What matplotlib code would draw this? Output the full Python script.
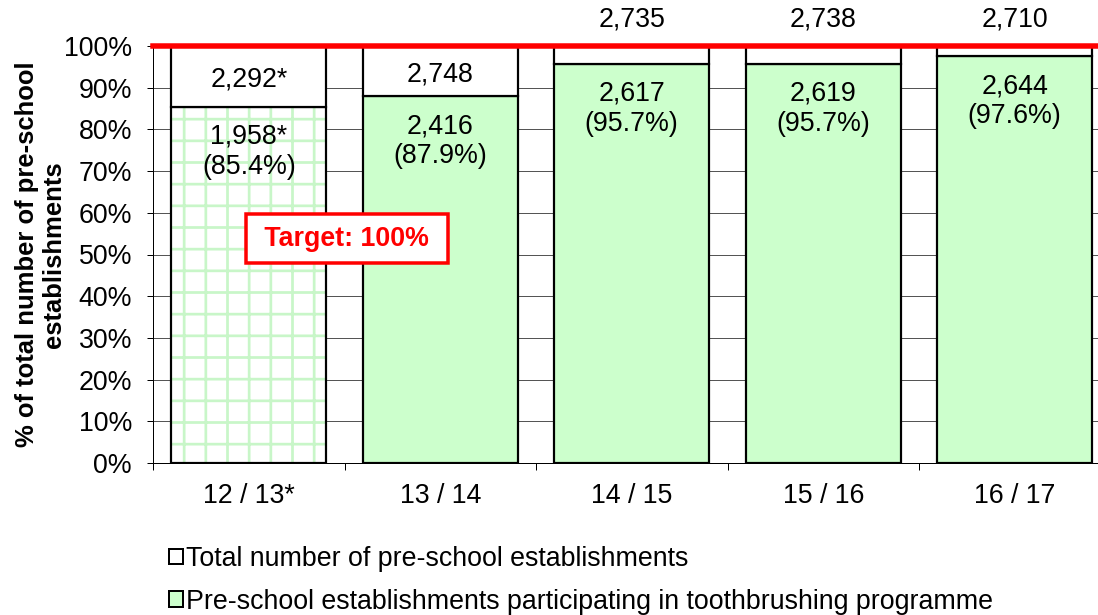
import matplotlib
matplotlib.use("Agg")
import matplotlib.pyplot as plt
from matplotlib.patches import Patch

categories = ["12 / 13*", "13 / 14", "14 / 15", "15 / 16", "16 / 17"]
totals = ["2,292*", "2,748", "2,735", "2,738", "2,710"]
participating = ["1,958*", "2,416", "2,617", "2,619", "2,644"]
percent = [85.4, 87.9, 95.7, 95.7, 97.6]
yticks = list(range(0, 101, 10))

DPI = 130
PT = 72 / DPI  # points per pixel
plt.rcParams['font.family'] = ['Liberation Sans', 'DejaVu Sans']
plt.rcParams['hatch.linewidth'] = 1.5
FS = 14.8

fig = plt.figure(figsize=(1098 / DPI, 615 / DPI), dpi=DPI)
ax = fig.add_axes([153 / 1098, 152 / 615, 957.5 / 1098, 417 / 615])

x = list(range(len(categories)))
w = 0.81
green = "#ccffcc"
edge_lw = 2.2 * PT

for i, p in enumerate(percent):
    rest = 100 - p
    if i == 0:
        ax.bar(i, p, w, color="white", edgecolor="#c8f6c8", hatch="+", lw=0, zorder=2)
        ax.bar(i, p, w, fill=False, edgecolor="black", lw=edge_lw, zorder=3)
    else:
        ax.bar(i, p, w, color=green, edgecolor="black", lw=edge_lw, zorder=3)
    ax.bar(i, rest, w, bottom=p, color="white", edgecolor="black", lw=edge_lw, zorder=3)
    # participating labels
    ax.annotate(participating[i], (i, p), xytext=(0, -30 * PT),
                textcoords="offset points", ha="center", va="center",
                fontsize=FS, zorder=5)
    ax.annotate(f"({p:.1f}%)", (i, p), xytext=(0, -60 * PT),
                textcoords="offset points", ha="center", va="center",
                fontsize=FS, zorder=5)
    # total labels
    if rest > 8:
        ax.annotate(totals[i], (i, p + rest / 2), xytext=(0, -3 * PT),
                    textcoords="offset points", ha="center", va="center",
                    fontsize=FS, zorder=5)
    else:
        ax.annotate(totals[i], (i, 100), xytext=(0, 26 * PT), textcoords="offset points",
                    ha="center", va="center", fontsize=FS, annotation_clip=False, zorder=5)

ax.axhline(100, color="#ff0000", lw=5.5 * PT, zorder=6, clip_on=False)

ax.text(0.512, 53.8, " Target: 100% ", color="#ff0000", fontsize=FS, fontweight="bold",
        ha="center", va="center", zorder=7,
        bbox=dict(boxstyle="square,pad=0.42", fc="white", ec="#ff0000", lw=3.5 * PT))

ax.set_xlim(-0.5, 4.5)
ax.set_ylim(0, 100)
ax.set_yticks(yticks)
ax.set_yticklabels([f"{t}%" for t in yticks], fontsize=FS)
ax.yaxis.grid(True, color="#555555", lw=1.0 * PT, zorder=0)
ax.set_axisbelow(True)
ax.set_xticks([i + 0.5 for i in x[:-1]] + [-0.5], minor=False)
ax.set_xticklabels([""] * len(x))
ax.set_xticks(x, minor=True)
ax.set_xticklabels(categories, minor=True, fontsize=FS)
ax.tick_params(axis="x", which="minor", length=0, pad=20 * PT)
ax.tick_params(axis="x", which="major", length=7 * PT, width=1.0 * PT)
ax.tick_params(axis="y", length=6 * PT, width=1.0 * PT, pad=15 * PT)
for s in ["top", "right"]:
    ax.spines[s].set_visible(False)
ax.spines["left"].set_linewidth(1.0 * PT)
ax.spines["bottom"].set_linewidth(1.0 * PT)

ax.set_ylabel("% of total number of pre-school\nestablishments", fontsize=14.2,
              fontweight="bold", linespacing=1.12, labelpad=-1)

handles = [Patch(facecolor="white", edgecolor="black", lw=2 * PT),
           Patch(facecolor=green, edgecolor="black", lw=2 * PT)]
labels = ["Total number of pre-school establishments",
          "Pre-school establishments participating in toothbrushing programme"]
fig.legend(handles, labels, loc="upper left", bbox_to_anchor=(169 / 1098, 1 - 546 / 615),
           frameon=False, fontsize=FS, handlelength=0.53, handleheight=0.53,
           handletextpad=0.12, labelspacing=0.63, borderaxespad=0, borderpad=0)

fig.savefig("out.png", dpi=DPI)
